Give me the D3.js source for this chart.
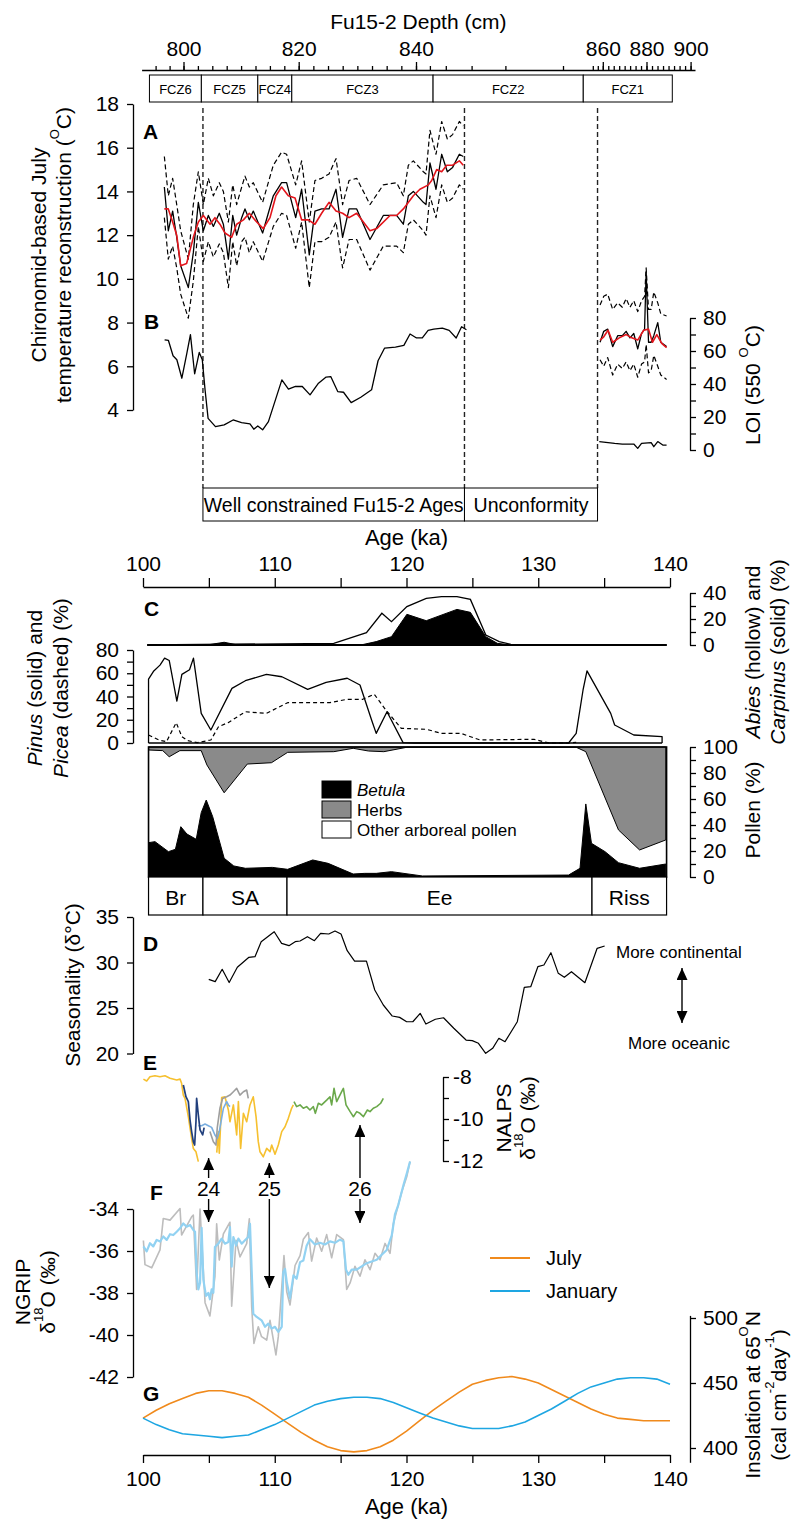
<!DOCTYPE html>
<html>
<head>
<meta charset="utf-8">
<script src="https://cdn.jsdelivr.net/npm/d3@7"></script>
<style>
  body { margin: 0; background: #fff; }
  svg { display: block; }
</style>
</head>
<body>
<svg id="chart" width="800" height="1523"></svg>
<script>
// ---------------- data ----------------
// depth axis / chironomid zones (Fu15-2 core depth, cm)
const depthLabels = [800, 820, 840, 860, 880, 900];
const fczNames = ["FCZ6", "FCZ5", "FCZ4", "FCZ3", "FCZ2", "FCZ1"];
const fczBounds = [793.9, 803.1, 812.9, 818.8, 843.0, 854.2, 891.7];

// A: chironomid July temperature (younger section)
const tempAge = [101.62, 101.92, 102.25, 102.56, 102.86, 103.44, 103.82, 104.2, 104.58, 104.96, 105.34, 105.79, 106.1, 106.48, 106.81, 107.11, 107.49, 107.74, 108.07, 108.37, 109.08, 109.89, 110.52, 110.9, 111.59, 112.04, 112.62, 113.05, 113.56, 114.12, 114.65, 115.15, 115.64, 116.22, 117.23, 118.24, 119.25, 119.76, 120.14, 120.52, 121.28, 121.48, 121.78, 122.24, 122.67, 123.1, 123.5, 124.01, 124.31];
const tempVal = [14.2, 12.2, 13.1, 11.9, 10.6, 9.6, 11.2, 13.5, 12.2, 12.9, 12.4, 13.0, 12.5, 10.9, 12.9, 12.0, 12.8, 13.2, 12.7, 13.1, 12.1, 13.8, 14.4, 14.4, 12.8, 14.1, 11.1, 13.1, 13.2, 13.2, 14.1, 11.9, 13.2, 13.2, 11.8, 12.9, 12.9, 12.5, 13.8, 14.0, 13.5, 13.4, 15.3, 14.1, 15.7, 14.9, 15.1, 15.7, 15.6];
const tempUpper = [15.6, 13.8, 14.6, 13.4, 12.2, 10.9, 13.4, 14.9, 13.4, 14.6, 13.8, 14.4, 14.0, 12.6, 14.3, 13.4, 14.2, 14.7, 14.2, 14.4, 13.5, 15.2, 15.8, 15.7, 14.3, 15.4, 12.6, 14.5, 14.6, 14.8, 15.5, 13.4, 14.5, 14.6, 13.4, 14.3, 14.4, 13.8, 15.2, 15.4, 14.9, 14.8, 16.8, 15.7, 17.2, 16.4, 16.6, 17.2, 17.0];
const tempLower = [12.8, 10.9, 11.5, 10.5, 9.3, 8.2, 9.9, 12.4, 10.8, 11.7, 11.0, 11.6, 11.2, 9.6, 11.7, 10.6, 11.7, 11.9, 11.2, 11.7, 10.8, 12.4, 13.0, 12.9, 11.4, 12.6, 9.6, 11.7, 11.7, 11.9, 12.6, 10.5, 11.8, 11.8, 10.4, 11.5, 11.5, 11.2, 12.5, 12.7, 12.2, 12.0, 13.8, 12.8, 14.3, 13.5, 13.7, 14.3, 14.1];
const smoothAge = [101.62, 101.92, 102.25, 102.56, 102.86, 103.31, 103.82, 104.2, 104.58, 105.09, 105.46, 105.84, 106.22, 106.73, 107.11, 107.62, 108.07, 108.63, 109.13, 109.64, 110.09, 110.52, 111.03, 111.54, 112.04, 112.55, 113.05, 113.56, 114.12, 114.65, 115.15, 115.64, 116.22, 117.23, 117.74, 118.75, 119.25, 119.76, 120.52, 121.02, 121.66, 121.91, 122.29, 122.67, 123.05, 123.5, 124.01, 124.31];
const smoothVal = [13.2, 13.2, 12.6, 12.0, 10.6, 10.7, 11.9, 12.6, 12.9, 12.5, 12.8, 12.5, 12.1, 11.9, 12.5, 12.7, 13.0, 12.6, 12.3, 12.8, 13.8, 14.2, 13.8, 13.7, 12.7, 12.7, 12.5, 13.0, 13.5, 13.1, 13.0, 12.8, 13.0, 12.2, 12.3, 12.9, 12.9, 13.2, 13.8, 14.1, 14.3, 14.5, 15.0, 14.9, 15.2, 15.2, 15.4, 15.2];
// A: older section (FCZ1)
const oldAge = [134.69, 134.97, 135.27, 135.65, 136.03, 136.38, 136.67, 136.96, 137.25, 137.55, 137.84, 138.07, 138.19, 138.37, 138.57, 138.77, 139.07, 139.3, 139.74];
const oldVal = [7.1, 7.6, 7.7, 6.9, 7.4, 7.4, 7.6, 7.3, 7.5, 6.8, 7.5, 7.7, 10.3, 7.1, 7.1, 7.4, 8.0, 7.1, 6.9];
const oldUpper = [8.8, 9.2, 9.3, 8.6, 8.9, 8.7, 9.1, 8.7, 9.0, 8.5, 9.0, 9.2, 10.5, 8.6, 8.6, 9.4, 8.9, 8.4, 8.3];
const oldLower = [6.3, 6.0, 6.4, 5.6, 6.1, 5.9, 6.2, 5.8, 6.1, 5.5, 6.1, 6.2, 7.0, 5.7, 5.8, 6.5, 6.0, 5.6, 5.4];
const oldSmoothAge = [134.69, 134.97, 135.3, 135.65, 136.15, 136.67, 137.1, 137.55, 138.0, 138.37, 138.67, 139.0, 139.37, 139.74];
const oldSmoothVal = [7.2, 7.35, 7.65, 7.1, 7.3, 7.45, 7.3, 7.2, 7.65, 7.7, 7.1, 7.45, 7.05, 6.85];
// B: loss on ignition
const loiAge = [101.64, 101.93, 102.28, 102.57, 102.95, 103.33, 103.6, 103.92, 104.27, 104.5, 104.71, 104.94, 105.5, 106.16, 106.84, 107.48, 108.12, 108.41, 108.71, 109.08, 109.52, 110.54, 111.04, 111.57, 112.09, 112.68, 113.32, 113.9, 114.25, 114.78, 115.22, 115.8, 116.53, 117.35, 117.84, 118.34, 119.16, 119.8, 120.27, 120.76, 121.2, 121.64, 122.07, 122.72, 123.24, 123.77, 124.18, 124.55];
const loiVal = [66.8, 66.4, 57.1, 54.7, 43.5, 58.7, 69.9, 46.2, 59.1, 54.7, 36.5, 19.2, 14.2, 15.2, 18.2, 16.6, 15.8, 12.6, 14.6, 12.2, 17.2, 42.5, 36.9, 38.5, 38.5, 33.4, 40.5, 44.2, 44.5, 35.4, 35.0, 28.7, 32.0, 36.5, 54.1, 61.8, 62.4, 63.4, 70.3, 67.9, 67.9, 72.5, 73.3, 73.9, 72.5, 67.9, 74.7, 72.9];
const loiOldAge = [134.63, 135.8, 136.38, 137.25, 137.55, 137.84, 138.57, 138.77, 139.07, 139.45, 139.74];
const loiOldVal = [5.1, 4.0, 3.6, 3.6, 1.0, 4.0, 4.5, 2.0, 5.1, 3.0, 3.0];
// age bands
const bandNames = ["Well constrained Fu15-2 Ages", "Unconformity"];
const bandBounds = [104.55, 124.4, 134.5];

// C: pollen
const abiesAge = [100.33, 114.48, 116.96, 118.13, 118.86, 120.03, 121.5, 122.66, 123.83, 124.85, 126.02, 127.04, 127.92, 139.74];
const abiesVal = [0, 1.3, 9.5, 24.4, 17.9, 29.5, 35.9, 37.2, 37.2, 35.1, 7.7, 2.6, 0.5, 0];
const carpAge = [100.33, 104.85, 106.16, 107.19, 116.53, 117.7, 118.86, 120.03, 121.5, 123.83, 124.85, 126.02, 126.89, 127.92, 139.74];
const carpVal = [0, 0, 2.1, 0, 0, 2.6, 6.4, 23.6, 18.7, 27.4, 25.1, 6.4, 1.3, 0, 0];
const pinusAge = [100.42, 100.82, 101.29, 101.64, 101.99, 102.57, 102.95, 103.53, 103.83, 104.42, 105.15, 106.75, 107.77, 109.37, 110.54, 112.5, 113.9, 115.5, 116.47, 117.35, 117.7, 118.52, 119.74, 120.6, 132.3, 132.88, 133.4, 133.7, 135.5, 135.8, 137.25, 139.4];
const pinusVal = [55, 62, 67, 73, 71, 36, 59, 63, 73, 25.5, 11.2, 47.0, 53.6, 59.1, 57.0, 46.2, 52.2, 55.7, 49.9, 19.8, 8.3, 26.9, 0.3, 0, 0, 8.3, 45.6, 62, 25.5, 15.5, 6.9, 5.4];
const piceaAge = [100.42, 101.2, 101.78, 102.52, 102.95, 103.39, 104.12, 105.15, 105.73, 106.46, 107.77, 109.37, 110.98, 114.19, 115.5, 116.68, 117.55, 118.43, 119.6, 121.5, 122.66, 124.12, 125.58, 129.66, 130.83, 132.3, 132.88];
const piceaVal = [6.9, 2.6, 1.1, 17.5, 5.4, 2.0, 0.3, 2.6, 14.0, 17.5, 26.9, 25.5, 34.7, 34.7, 37.6, 37.6, 42, 28.4, 12.6, 11.8, 8.3, 8.3, 2.6, 3.2, 0, 0, 0.5];
const betulaAge = [100.42, 100.91, 101.93, 102.46, 102.87, 103.33, 104.04, 104.42, 104.8, 105.29, 106.16, 106.89, 107.77, 109.81, 110.98, 112.88, 114.05, 115.95, 116.82, 117.7, 118.86, 121.2, 132.3, 133.17, 133.61, 134.04, 135.07, 136.09, 137.69, 139.68];
const betulaVal = [26.4, 27.2, 19.5, 21.3, 38.7, 33.1, 29.0, 49.5, 59.2, 46.4, 14.4, 8.5, 6.7, 7.4, 5.9, 13.1, 10.5, 2.3, 2.8, 2.8, 4.1, 0.8, 1.5, 6.7, 56.2, 25.9, 19.5, 11.0, 6.7, 10.0];
// cumulative Betula + other arboreal = 100 - herbs
const herbTopAge = [100.42, 101.5, 101.99, 102.8, 104.42, 104.85, 106.16, 107.92, 109.75, 110.98, 114.48, 115.95, 117.12, 118.28, 120.03, 132.88, 133.61, 136.09, 137.69, 139.68];
const herbTopVal = [97.7, 97.2, 92.5, 97.2, 97.2, 86.2, 64.8, 86.9, 87.9, 95.9, 96.4, 99.0, 96.9, 96.4, 99.8, 99.8, 96.4, 36.2, 20.8, 28.5];
const zoneNames = ["Br", "SA", "Ee", "Riss"];
const zoneBounds = [100.42, 104.55, 110.93, 134.08, 139.74];

// D: seasonality
const seasAge = [104.99, 105.48, 106.01, 106.54, 107.16, 108.04, 108.5, 108.97, 109.96, 110.52, 111.08, 111.55, 111.92, 112.48, 113.01, 113.48, 114.1, 114.57, 115.03, 115.5, 116.06, 116.96, 117.59, 118.24, 118.92, 119.48, 120.01, 120.48, 121.04, 121.47, 122.19, 122.81, 123.59, 124.52, 124.99, 125.46, 126.01, 126.54, 127.01, 127.48, 128.41, 128.94, 129.43, 129.97, 130.43, 130.96, 131.52, 131.98, 132.52, 133.54, 134.47, 135.04];
const seasVal = [28.15, 27.9, 29.25, 27.8, 29.47, 30.57, 30.64, 32.29, 33.38, 32.1, 31.85, 32.29, 32.36, 32.84, 32.4, 33.2, 33.13, 33.46, 33.13, 31.3, 30.16, 30.16, 26.98, 25.33, 24.12, 23.97, 23.49, 23.49, 24.41, 23.24, 23.76, 23.93, 22.77, 21.48, 21.41, 21.12, 20.02, 20.57, 21.67, 21.3, 23.49, 27.27, 27.34, 29.54, 29.73, 31.08, 28.81, 28.37, 28.99, 27.78, 31.56, 31.81];

// E: NALPS speleothem d18O
const nalpsYellow1Age = [100.03, 100.28, 100.53, 100.91, 101.29, 101.67, 102.05, 102.56, 102.81, 102.93, 103.06, 103.19, 103.44, 103.69, 103.82, 104.02, 104.2];
const nalpsYellow1Val = [-8.1, -8.19, -7.99, -7.94, -7.99, -7.94, -8.06, -8.14, -8.1, -8.3, -8.86, -9.02, -9.89, -10.92, -11.4, -11.56, -12.03];
const nalpsYellow2Age = [105.6, 105.72, 105.79, 105.9, 105.97, 106.22, 106.48, 106.6, 106.73, 106.86, 107.11, 107.24, 107.41, 107.62, 107.87, 108.12, 108.37, 108.58, 108.75, 108.88, 109.13, 109.39, 109.64, 109.77, 110.02, 110.27, 110.53, 110.78, 111.03, 111.28, 111.41];
const nalpsYellow2Val = [-11.6, -10.6, -11.63, -10.13, -8.98, -8.94, -9.57, -10.13, -9.73, -9.33, -10.76, -9.17, -11.4, -9.73, -10.13, -9.33, -8.94, -9.89, -11.08, -11.56, -11.8, -11.4, -11.56, -11.24, -11.68, -11.24, -10.6, -10.37, -9.97, -9.49, -9.33];
const nalpsNavyAge = [103.06, 103.26, 103.44, 103.57, 103.69, 103.82, 103.92, 104.02, 104.07, 104.2, 104.33, 104.53, 104.64];
const nalpsNavyVal = [-8.38, -8.94, -9.17, -10.05, -10.6, -11.08, -11.24, -10.13, -9.02, -9.81, -10.52, -10.76, -10.41];
const nalpsLightAge = [104.2, 104.45, 104.71, 104.96, 105.21, 105.46, 105.64, 105.79, 106.1, 106.35, 106.48, 106.6];
const nalpsLightVal = [-10.32, -10.32, -10.24, -10.32, -10.4, -10.76, -10.92, -10.6, -9.49, -9.17, -9.33, -9.41];
const nalpsGrayAge = [105.08, 105.34, 105.54, 105.64, 105.84, 106.04, 106.35, 106.6, 106.86, 107.11, 107.36, 107.62, 107.87, 107.99];
const nalpsGrayVal = [-10.6, -11.08, -11.24, -10.4, -9.49, -9.02, -8.94, -8.86, -8.7, -8.54, -8.86, -8.7, -8.62, -9.02];
const nalpsGreenAge = [111.46, 111.66, 111.92, 112.17, 112.42, 112.67, 112.93, 113.08, 113.31, 113.56, 113.94, 114.19, 114.32, 114.5, 114.7, 115.08, 115.21, 115.41, 115.72, 115.97, 116.22, 116.47, 116.73, 117.03, 117.23, 117.48, 117.74, 118.04, 118.24];
const nalpsGreenVal = [-9.17, -9.41, -9.33, -9.49, -9.41, -9.57, -9.41, -9.73, -9.25, -9.33, -9.1, -8.94, -9.33, -8.54, -9.17, -8.7, -8.54, -9.33, -9.65, -9.89, -9.65, -9.73, -9.89, -9.57, -9.65, -9.49, -9.41, -9.25, -9.02];
// event labels shared by E and F
const eventNames = ["24", "25", "26"];
const eventAge = [104.98, 109.59, 116.47];
const eventNalpsTip = [-11.86, -12.1, -10.29];
const eventNgripTip = [-34.62, -37.76, -34.67];

// F: NGRIP d18O (raw grey, smoothed blue)
const ngripAge = [100.03, 100.28, 100.53, 100.78, 101.04, 101.29, 101.54, 101.8, 102.05, 102.3, 102.56, 102.81, 103.06, 103.31, 103.57, 103.82, 103.95, 104.07, 104.2, 104.33, 104.45, 104.58, 104.78, 104.96, 105.08, 105.21, 105.34, 105.46, 105.72, 105.97, 106.22, 106.48, 106.6, 106.73, 106.86, 107.06, 107.24, 107.49, 107.74, 107.99, 108.12, 108.25, 108.37, 108.63, 109.0, 109.26, 109.51, 109.77, 110.02, 110.27, 110.53, 110.65, 110.78, 110.91, 111.16, 111.42, 111.66, 111.92, 112.17, 112.42, 112.67, 113.05, 113.43, 113.81, 114.19, 114.57, 114.95, 115.21, 115.41, 115.59, 115.84, 116.22, 116.6, 116.98, 117.36, 117.74, 118.12, 118.5, 118.88, 119.13, 119.38, 119.76, 120.02, 120.27];
const ngripVal = [-35.78, -36.02, -35.63, -35.78, -35.47, -35.55, -35.31, -35.47, -35.2, -35.24, -35.08, -34.92, -34.69, -34.84, -34.76, -35.0, -35.08, -37.05, -37.83, -37.52, -34.9, -37.36, -38.14, -37.99, -38.3, -37.83, -37.99, -35.81, -35.65, -35.41, -35.65, -35.57, -34.86, -36.75, -35.34, -35.73, -35.41, -35.65, -35.49, -35.34, -34.71, -36.95, -38.99, -39.14, -39.3, -39.61, -39.46, -39.69, -39.61, -39.85, -39.61, -37.0, -36.85, -37.47, -38.26, -37.16, -37.32, -36.53, -36.45, -35.75, -35.44, -35.69, -35.61, -35.69, -35.54, -35.61, -35.46, -35.54, -36.89, -37.13, -36.89, -36.89, -36.73, -36.58, -36.5, -36.42, -36.18, -35.95, -35.26, -34.24, -33.8, -32.88, -32.31, -31.74];
const ngripRawAge = [100.03, 100.15, 100.66, 101.29, 101.54, 102.05, 102.81, 102.93, 103.69, 103.82, 104.07, 104.33, 104.71, 105.08, 105.46, 105.59, 105.79, 106.1, 106.6, 106.73, 107.06, 107.36, 107.87, 108.07, 108.25, 108.42, 108.75, 109.0, 109.39, 109.64, 110.09, 110.27, 110.7, 110.91, 111.16, 111.54, 111.92, 112.17, 112.55, 112.8, 113.18, 113.56, 113.94, 114.32, 114.7, 115.21, 115.46, 115.72, 116.09, 116.47, 116.85, 117.23, 117.61, 117.99, 118.37, 118.75, 119.0, 119.26, 119.63, 120.02, 120.27];
const ngripRawVal = [-35.5, -36.65, -36.8, -35.95, -34.45, -34.53, -33.98, -35.24, -34.37, -34.29, -37.83, -34.0, -38.46, -39.09, -37.22, -34.71, -36.43, -35.18, -34.63, -38.63, -35.49, -36.28, -35.65, -34.47, -38.67, -40.4, -39.61, -40.08, -40.24, -39.3, -40.95, -40.08, -36.22, -37.94, -38.57, -36.69, -36.22, -35.44, -35.12, -36.48, -35.38, -36.01, -35.22, -36.32, -35.22, -35.46, -37.83, -37.52, -36.73, -37.2, -36.42, -36.89, -36.11, -36.42, -35.64, -36.11, -34.71, -34.08, -33.2, -32.47, -31.74];

// G: 65N insolation
const insAge = [100, 101, 102, 103, 104, 105, 106, 107, 108, 109, 110, 111, 112, 113, 114, 115, 116, 117, 118, 119, 120, 121, 122, 123, 124, 125, 126, 127, 128, 129, 130, 131, 132, 133, 134, 135, 136, 137, 138, 139, 140];
const julyIns = [423, 429, 434, 438, 442, 444, 444, 442, 439, 433, 426, 419, 412, 406, 401, 398, 397, 398, 401, 406, 413, 421, 429, 436, 443, 449, 452, 454, 455, 453, 450, 445, 440, 435, 430, 426, 423, 422, 421, 421, 421];
const janIns = [423, 418, 414, 411, 410, 409, 408, 409, 410, 414, 418, 423, 428, 433, 436, 438, 439, 439, 438, 435, 431, 427, 423, 420, 417, 415, 415, 415, 417, 420, 425, 430, 436, 442, 447, 450, 453, 454, 454, 453, 449];

// ---------------- setup ----------------
const FONT = "'Liberation Sans', Arial, Helvetica, sans-serif";
const svg = d3.select("#chart").attr("font-family", FONT);
const zip = (a, b) => a.map((d, i) => [d, b[i]]);

svg.append("defs").append("marker")
    .attr("id", "head")
    .attr("viewBox", "0 0 12 11")
    .attr("refX", 12).attr("refY", 5.5)
    .attr("markerWidth", 12).attr("markerHeight", 11)
    .attr("markerUnits", "userSpaceOnUse")
    .attr("orient", "auto-start-reverse")
    .append("path").attr("d", "M0,0L12,5.5L0,11z").attr("fill", "#000");

const ageX = d3.scaleLinear().domain([100, 140]).range([143, 670]);
// non-linear age-depth mapping of the top axis
const depthX = d3.scaleLinear()
    .domain([792.5, 795, 797.5, 800, 820, 840, 842.5, 845, 847.5, 850, 852.5, 855, 860, 880, 902])
    .range([141.6, 155.6, 169.6, 183.5, 298.7, 416, 429.9, 445.8, 471.6, 505.4, 563, 592.8, 602.8, 646.5, 695]);

const tempY = d3.scaleLinear().domain([4, 18]).range([410, 104]);
const loiY = d3.scaleLinear().domain([0, 80]).range([450, 318]);
const abiesY = d3.scaleLinear().domain([0, 40]).range([645, 593]);
const pinusY = d3.scaleLinear().domain([0, 80]).range([743, 650]);
const pollenY = d3.scaleLinear().domain([0, 100]).range([877, 747]);
const seasY = d3.scaleLinear().domain([20, 35]).range([1053.5, 917]);
const nalpsY = d3.scaleLinear().domain([-12, -8]).range([1161, 1077]);
const ngripY = d3.scaleLinear().domain([-42, -34]).range([1377, 1209]);
const insY = d3.scaleLinear().domain([400, 500]).range([1448, 1318]);

const LEFT_X = 133, RIGHT_X = 690, TICK_FS = 21;

function styleAxis(g, fs) {
  g.attr("font-family", null).attr("font-size", fs || TICK_FS);
  g.select(".domain").attr("stroke", "#000").attr("stroke-width", 1.3);
  g.selectAll(".tick line").attr("stroke", "#000").attr("stroke-width", 1.3);
  g.selectAll(".tick text").attr("fill", "#000");
  return g;
}
const every = (n) => (d) => (Math.abs(d % n) < 1e-9 ? String(d) : "");

function vLabel(x, y, segs, fs) {
  fs = fs || 21;
  const t = svg.append("text")
      .attr("transform", `translate(${x},${y}) rotate(-90)`)
      .attr("text-anchor", "middle")
      .attr("dominant-baseline", "central")
      .attr("font-size", fs);
  let shift = 0;
  segs.forEach(s => {
    const ts = t.append("tspan").text(s.t);
    const target = s.sup ? -fs * 0.42 : 0;
    if (target !== shift) { ts.attr("dy", target - shift); shift = target; }
    if (s.sup) ts.attr("font-size", fs * 0.62);
    if (s.i) ts.attr("font-style", "italic");
  });
  return t;
}
function panelLetter(x, y, s) {
  svg.append("text").attr("x", x).attr("y", y).attr("dominant-baseline", "central")
      .attr("font-size", 21).attr("font-weight", "bold").text(s);
}
function plotLine(data, xs, ys, opts) {
  const p = svg.append("path")
      .datum(data)
      .attr("fill", "none")
      .attr("stroke", opts.color || "#000")
      .attr("stroke-width", opts.width || 1.3)
      .attr("stroke-linejoin", "round")
      .attr("d", d3.line().x(d => xs(d[0])).y(d => ys(d[1])));
  if (opts.dash) p.attr("stroke-dasharray", opts.dash);
  return p;
}

// ---------------- depth axis + FCZ zones ----------------
svg.append("text").attr("x", d3.mean(depthX.range().filter((d, i, a) => i === 0 || i === a.length - 1)))
    .attr("y", 29).attr("text-anchor", "middle")
    .attr("font-size", 21).text("Fu15-2 Depth (cm)");
styleAxis(svg.append("g").attr("transform", "translate(0,70)")
    .call(d3.axisTop(depthX).tickValues(d3.range(795, 900.1, 2.5)).tickSize(4).tickFormat("").tickSizeOuter(0)));
const depthMajor = styleAxis(svg.append("g").attr("transform", "translate(0,70)")
    .call(d3.axisTop(depthX).tickValues(depthLabels).tickSize(8).tickPadding(6).tickSizeOuter(0)));
depthMajor.select(".domain").remove();

const fcz = svg.append("g");
fczNames.forEach((n, i) => {
  const x0 = depthX(fczBounds[i]), x1 = depthX(fczBounds[i + 1]);
  fcz.append("rect").attr("x", x0).attr("y", 75).attr("width", x1 - x0).attr("height", 27)
      .attr("fill", "#fff").attr("stroke", "#000").attr("stroke-width", 1);
  fcz.append("text").attr("x", (x0 + x1) / 2).attr("y", 89).attr("text-anchor", "middle")
      .attr("dominant-baseline", "central").attr("font-size", 13).text(n);
});

// dashed boundary lines through A/B
bandBounds.forEach(a => {
  svg.append("line").attr("x1", ageX(a)).attr("x2", ageX(a)).attr("y1", 108).attr("y2", 488)
      .attr("stroke", "#222").attr("stroke-width", 1.4).attr("stroke-dasharray", "5,3");
});

// ---------------- A: temperature ----------------
styleAxis(svg.append("g").attr("transform", `translate(${LEFT_X},0)`)
    .call(d3.axisLeft(tempY).tickValues([4, 6, 8, 10, 12, 14, 16, 18]).tickSize(6).tickPadding(8).tickSizeOuter(0)));
vLabel(38, 255, [{t: "Chironomid-based July"}]);
vLabel(63, 255, [{t: "temperature reconstruction ("}, {t: "O", sup: true}, {t: "C)"}]);
panelLetter(143, 131, "A");

plotLine(zip(tempAge, tempUpper), ageX, tempY, {dash: "5,3", width: 1.2});
plotLine(zip(tempAge, tempLower), ageX, tempY, {dash: "5,3", width: 1.2});
plotLine(zip(tempAge, tempVal), ageX, tempY, {width: 1.3});
plotLine(zip(smoothAge, smoothVal), ageX, tempY, {color: "#e3151c", width: 1.6});
plotLine(zip(oldAge, oldUpper), ageX, tempY, {dash: "5,3", width: 1.2});
plotLine(zip(oldAge, oldLower), ageX, tempY, {dash: "5,3", width: 1.2});
plotLine(zip(oldAge, oldVal), ageX, tempY, {width: 1.3});
plotLine(zip(oldSmoothAge, oldSmoothVal), ageX, tempY, {color: "#e3151c", width: 1.6});

// ---------------- B: LOI ----------------
panelLetter(144, 321, "B");
plotLine(zip(loiAge, loiVal), ageX, loiY, {width: 1.3});
plotLine(zip(loiOldAge, loiOldVal), ageX, loiY, {width: 1.3});
styleAxis(svg.append("g").attr("transform", `translate(${RIGHT_X},0)`)
    .call(d3.axisRight(loiY).tickValues(d3.range(0, 81, 10)).tickFormat(every(20)).tickSize(6).tickPadding(7).tickSizeOuter(0)));
vLabel(752, 385, [{t: "LOI (550 "}, {t: "O", sup: true}, {t: "C)"}]);

// age bands
bandNames.forEach((n, i) => {
  const x0 = ageX(bandBounds[i]), x1 = ageX(bandBounds[i + 1]);
  svg.append("rect").attr("x", x0).attr("y", 488).attr("width", x1 - x0).attr("height", 33)
      .attr("fill", "#fff").attr("stroke", "#000").attr("stroke-width", 1);
  svg.append("text").attr("x", (x0 + x1) / 2).attr("y", 505).attr("text-anchor", "middle")
      .attr("dominant-baseline", "central").attr("font-size", 19.5).text(n);
});

// ---------------- middle age axis ----------------
svg.append("text").attr("x", ageX(120)).attr("y", 545).attr("text-anchor", "middle")
    .attr("font-size", 22).text("Age (ka)");
styleAxis(svg.append("g").attr("transform", "translate(0,587)")
    .call(d3.axisTop(ageX).tickValues(d3.range(100, 141, 5)).tickFormat(every(10)).tickSize(9).tickPadding(7).tickSizeOuter(0)));

// ---------------- C: Abies / Carpinus ----------------
panelLetter(144, 608, "C");
svg.append("path").datum(zip(abiesAge, abiesVal))
    .attr("fill", "#fff").attr("stroke", "#000").attr("stroke-width", 1.3)
    .attr("d", d3.area().x(d => ageX(d[0])).y0(abiesY(0)).y1(d => abiesY(d[1])));
svg.append("path").datum(zip(carpAge, carpVal))
    .attr("fill", "#000").attr("stroke", "#000").attr("stroke-width", 1)
    .attr("d", d3.area().x(d => ageX(d[0])).y0(abiesY(0)).y1(d => abiesY(d[1])));
svg.append("line").attr("x1", ageX(100.33)).attr("x2", ageX(139.74)).attr("y1", abiesY(0)).attr("y2", abiesY(0))
    .attr("stroke", "#000").attr("stroke-width", 2.2);
styleAxis(svg.append("g").attr("transform", `translate(${RIGHT_X},0)`)
    .call(d3.axisRight(abiesY).tickValues([0, 10, 20, 30, 40]).tickFormat(every(20)).tickSize(6).tickPadding(7).tickSizeOuter(0)));
vLabel(752, 652, [{t: "Abies", i: true}, {t: " (hollow) and"}]);
vLabel(777, 652, [{t: "Carpinus", i: true}, {t: " (solid) (%)"}]);

// Pinus (closed outline) / Picea (dashed)
const pinusPts = [[pinusAge[0], 0]].concat(zip(pinusAge, pinusVal), [[pinusAge[pinusAge.length - 1], 0]]);
plotLine(pinusPts, ageX, pinusY, {width: 1.3});
plotLine(zip(piceaAge, piceaVal), ageX, pinusY, {dash: "4,3", width: 1.2});
svg.append("line").attr("x1", ageX(100.42)).attr("x2", ageX(139.4)).attr("y1", pinusY(0)).attr("y2", pinusY(0))
    .attr("stroke", "#000").attr("stroke-width", 1.6);
styleAxis(svg.append("g").attr("transform", `translate(${LEFT_X},0)`)
    .call(d3.axisLeft(pinusY).tickValues(d3.range(0, 81, 10)).tickFormat(every(20)).tickSize(6).tickPadding(8).tickSizeOuter(0)));
vLabel(34, 688, [{t: "Pinus", i: true}, {t: " (solid) and"}]);
vLabel(60, 688, [{t: "Picea", i: true}, {t: " (dashed) (%)"}]);

// pollen diagram
const px0 = ageX(zoneBounds[0]), px1 = ageX(zoneBounds[zoneBounds.length - 1]);
svg.append("rect").attr("x", px0).attr("y", pollenY(100)).attr("width", px1 - px0).attr("height", pollenY(0) - pollenY(100))
    .attr("fill", "#fff");
svg.append("path").datum(zip(herbTopAge, herbTopVal))
    .attr("fill", "#8a8a8a").attr("stroke", "#000").attr("stroke-width", 1)
    .attr("d", d3.area().x(d => ageX(d[0])).y0(pollenY(100)).y1(d => pollenY(d[1])));
svg.append("path").datum(zip(betulaAge, betulaVal))
    .attr("fill", "#000").attr("stroke", "#000").attr("stroke-width", 1)
    .attr("d", d3.area().x(d => ageX(d[0])).y0(pollenY(0)).y1(d => pollenY(d[1])));
svg.append("rect").attr("x", px0).attr("y", pollenY(100)).attr("width", px1 - px0).attr("height", pollenY(0) - pollenY(100))
    .attr("fill", "none").attr("stroke", "#000").attr("stroke-width", 1.6);
styleAxis(svg.append("g").attr("transform", `translate(${RIGHT_X},0)`)
    .call(d3.axisRight(pollenY).tickValues(d3.range(0, 101, 10)).tickFormat(every(20)).tickSize(6).tickPadding(7).tickSizeOuter(0)));
vLabel(752, 810, [{t: "Pollen (%)"}]);

// legend
const legItems = [{n: "Betula", f: "#000", i: true}, {n: "Herbs", f: "#8a8a8a"}, {n: "Other arboreal pollen", f: "#fff"}];
legItems.forEach((d, i) => {
  const y = 781 + i * 20;
  svg.append("rect").attr("x", 322).attr("y", y).attr("width", 29).attr("height", 17)
      .attr("fill", d.f).attr("stroke", "#000").attr("stroke-width", 1);
  svg.append("text").attr("x", 357).attr("y", y + 9).attr("dominant-baseline", "central")
      .attr("font-size", 17).attr("font-style", d.i ? "italic" : null).text(d.n);
});

// zones
zoneNames.forEach((n, i) => {
  const x0 = ageX(zoneBounds[i]), x1 = ageX(zoneBounds[i + 1]);
  svg.append("rect").attr("x", x0).attr("y", 877).attr("width", x1 - x0).attr("height", 38)
      .attr("fill", "#fff").attr("stroke", "#000").attr("stroke-width", 1.2);
  svg.append("text").attr("x", (x0 + x1) / 2).attr("y", 897).attr("text-anchor", "middle")
      .attr("dominant-baseline", "central").attr("font-size", 21).text(n);
});

// ---------------- D: seasonality ----------------
panelLetter(143, 943, "D");
styleAxis(svg.append("g").attr("transform", `translate(${LEFT_X},0)`)
    .call(d3.axisLeft(seasY).tickValues([20, 25, 30, 35]).tickSize(6).tickPadding(8).tickSizeOuter(0)));
vLabel(72, 985, [{t: "Seasonality (δ°C)"}]);
plotLine(zip(seasAge, seasVal), ageX, seasY, {width: 1.2});
svg.append("text").attr("x", 616).attr("y", 952).attr("dominant-baseline", "central").attr("font-size", 17).text("More continental");
svg.append("text").attr("x", 628).attr("y", 1043).attr("dominant-baseline", "central").attr("font-size", 17).text("More oceanic");
svg.append("line").attr("x1", 682).attr("x2", 682).attr("y1", 968).attr("y2", 1023)
    .attr("stroke", "#000").attr("stroke-width", 1.4)
    .attr("marker-start", "url(#head)").attr("marker-end", "url(#head)");

// ---------------- E: NALPS ----------------
panelLetter(143, 1062, "E");
plotLine(zip(nalpsYellow1Age, nalpsYellow1Val), ageX, nalpsY, {color: "#f6c02f", width: 1.6});
plotLine(zip(nalpsYellow2Age, nalpsYellow2Val), ageX, nalpsY, {color: "#f6c02f", width: 1.6});
plotLine(zip(nalpsLightAge, nalpsLightVal), ageX, nalpsY, {color: "#7aaee0", width: 1.6});
plotLine(zip(nalpsNavyAge, nalpsNavyVal), ageX, nalpsY, {color: "#213f7c", width: 1.7});
plotLine(zip(nalpsGrayAge, nalpsGrayVal), ageX, nalpsY, {color: "#9e9e9e", width: 1.6});
plotLine(zip(nalpsGreenAge, nalpsGreenVal), ageX, nalpsY, {color: "#6aa84a", width: 1.6});
styleAxis(svg.append("g").attr("transform", "translate(443,0)")
    .call(d3.axisRight(nalpsY).tickValues([-12, -11, -10, -9, -8]).tickFormat(every(2)).tickSize(6).tickPadding(4).tickSizeOuter(0)));
vLabel(503, 1118, [{t: "NALPS"}]);
vLabel(527, 1118, [{t: "δ"}, {t: "18", sup: true}, {t: "O (‰)"}]);

// ---------------- F: NGRIP ----------------
panelLetter(150, 1192, "F");
styleAxis(svg.append("g").attr("transform", `translate(${LEFT_X},0)`)
    .call(d3.axisLeft(ngripY).tickValues([-42, -40, -38, -36, -34]).tickFormat(d => String(d)).tickSize(6).tickPadding(8).tickSizeOuter(0)));
vLabel(22, 1292, [{t: "NGRIP"}]);
vLabel(47, 1292, [{t: "δ"}, {t: "18", sup: true}, {t: "O (‰)"}]);
plotLine(zip(ngripRawAge, ngripRawVal), ageX, ngripY, {color: "#bdbdbd", width: 1.6});
plotLine(zip(ngripAge, ngripVal), ageX, ngripY, {color: "#92d2f2", width: 2.2});

// event arrows 24 / 25 / 26
eventNames.forEach((n, i) => {
  const x = ageX(eventAge[i]);
  svg.append("line").attr("x1", x).attr("x2", x).attr("y1", 1178).attr("y2", nalpsY(eventNalpsTip[i]))
      .attr("stroke", "#000").attr("stroke-width", 1.4).attr("marker-end", "url(#head)");
  svg.append("text").attr("x", x).attr("y", 1188).attr("text-anchor", "middle").attr("dominant-baseline", "central")
      .attr("font-size", 21).text(n);
  svg.append("line").attr("x1", x).attr("x2", x).attr("y1", 1199).attr("y2", ngripY(eventNgripTip[i]))
      .attr("stroke", "#000").attr("stroke-width", 1.4).attr("marker-end", "url(#head)");
});

// ---------------- G: insolation ----------------
panelLetter(143, 1393, "G");
plotLine(zip(insAge, julyIns), ageX, insY, {color: "#f08a1c", width: 1.6});
plotLine(zip(insAge, janIns), ageX, insY, {color: "#1ea6e2", width: 1.6});
const insAxisScale = insY.copy().domain([389, 502]).range([insY(389), insY(502)]);
styleAxis(svg.append("g").attr("transform", `translate(${RIGHT_X},0)`)
    .call(d3.axisRight(insAxisScale).tickValues([400, 450, 500]).tickSize(6).tickPadding(7).tickSizeOuter(0)));
vLabel(752, 1395, [{t: "Insolation at 65"}, {t: "O", sup: true}, {t: "N"}]);
vLabel(778, 1395, [{t: "(cal cm"}, {t: "-2", sup: true}, {t: "day"}, {t: "-1", sup: true}, {t: ")"}]);

const legG = [{n: "July", c: "#f08a1c"}, {n: "January", c: "#1ea6e2"}];
legG.forEach((d, i) => {
  const y = 1258 + i * 33;
  svg.append("line").attr("x1", 490).attr("x2", 530).attr("y1", y).attr("y2", y)
      .attr("stroke", d.c).attr("stroke-width", 1.8);
  svg.append("text").attr("x", 546).attr("y", y).attr("dominant-baseline", "central")
      .attr("font-size", 20).text(d.n);
});

styleAxis(svg.append("g").attr("transform", "translate(0,1455)")
    .call(d3.axisBottom(ageX).tickValues(d3.range(100, 141, 5)).tickFormat(every(10)).tickSize(8).tickPadding(8).tickSizeOuter(0)));
svg.append("text").attr("x", ageX(120)).attr("y", 1514).attr("text-anchor", "middle")
    .attr("font-size", 22).text("Age (ka)");
</script>
</body>
</html>
